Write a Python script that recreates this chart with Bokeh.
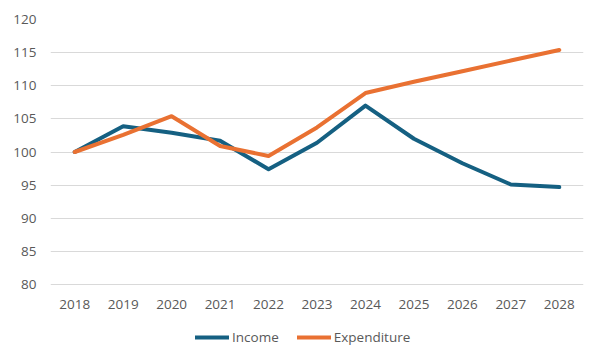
from bokeh.plotting import figure
from bokeh.models import ColumnDataSource, Legend, LegendItem, FixedTicker, Range1d
from bokeh.core.properties import value
from bokeh.embed import file_html
from bokeh.resources import INLINE

years = ["2018", "2019", "2020", "2021", "2022", "2023", "2024", "2025", "2026", "2027", "2028"]
income = [100.0, 103.9, 102.9, 101.7, 97.4, 101.4, 107.0, 102.0, 98.3, 95.1, 94.7]
expenditure = [100.0, 102.6, 105.4, 100.9, 99.4, 103.7, 108.9, 110.6, 112.2, 113.8, 115.4]
y_ticks = [80, 85, 90, 95, 100, 105, 110, 115, 120]
series_names = ["Income", "Expenditure"]
colors = ["#156082", "#E97132"]

FONT = "Open Sans"
TXT = "#595959"
FS = "13.5px"

# the frame reaches down to the figure's bottom so that the legend can sit under the year labels
GRID_H = 265
FRAME_H = 327
y_lo, y_hi = y_ticks[0], y_ticks[-1]
y_start = y_hi - (y_hi - y_lo) * FRAME_H / GRID_H

p = figure(x_range=years, y_range=Range1d(y_start, y_hi), frame_width=533, frame_height=FRAME_H,
           output_backend="svg", toolbar_location=None,
           min_border_left=50, min_border_right=3, min_border_top=19, min_border_bottom=0)
p.outline_line_color = None
p.background_fill_color = "white"
p.border_fill_color = "white"
p.x_range.range_padding = 0

src = ColumnDataSource(dict(x=years, income=income, expenditure=expenditure))
r1 = p.line("x", "income", source=src, line_color=colors[0], line_width=4, line_join="round", line_cap="round")
r2 = p.line("x", "expenditure", source=src, line_color=colors[1], line_width=4, line_join="round", line_cap="round")

p.xgrid.grid_line_color = None
p.ygrid.grid_line_color = "#D9D9D9"
p.ygrid.grid_line_width = 1
p.ygrid.ticker = FixedTicker(ticks=y_ticks)
p.yaxis.ticker = FixedTicker(ticks=y_ticks)
p.xaxis.visible = False

ax = p.yaxis[0]
ax.axis_line_color = None
ax.major_tick_line_color = None
ax.minor_tick_line_color = None
ax.major_tick_out = 0
ax.major_tick_in = 0
ax.major_label_text_color = TXT
ax.major_label_text_font = FONT
ax.major_label_text_font_size = FS
ax.major_label_standoff = 14

# year labels under the lowest gridline
lab = ColumnDataSource(dict(x=years, y=[y_lo] * len(years), t=years))
p.text("x", "y", text="t", source=lab, text_align="center", text_baseline="middle", y_offset=20,
       text_font=value(FONT), text_font_size=value(FS), text_color=TXT)

legend = Legend(items=[LegendItem(label=series_names[0], renderers=[r1]),
                       LegendItem(label=series_names[1], renderers=[r2])],
                orientation="horizontal", location=(145, 0),
                label_text_font=FONT, label_text_font_size=FS, label_text_color=TXT,
                glyph_width=34, glyph_height=18, label_standoff=3, spacing=18,
                border_line_color=None, background_fill_alpha=0, margin=0, padding=0)
p.add_layout(legend)

open("out.html", "w").write(file_html(p, INLINE))
